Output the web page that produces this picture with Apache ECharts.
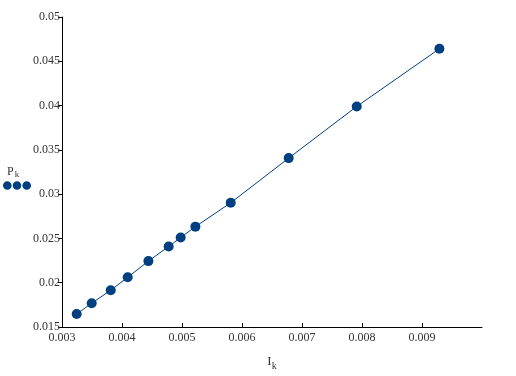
<!DOCTYPE html>
<html>
<head>
<meta charset="utf-8">
<script src="https://cdn.jsdelivr.net/npm/echarts@6/dist/echarts.min.js"></script>
<style>html,body{margin:0;padding:0;background:#fff}#c{width:516px;height:376px}</style>
</head>
<body>
<div id="c"></div>
<script>
var xValues = [0.003245, 0.003495, 0.003812, 0.004095, 0.00444, 0.004778, 0.004978, 0.005223, 0.005812, 0.006778, 0.007912, 0.00929];
var yValues = [0.01646, 0.01769, 0.01915, 0.02061, 0.02244, 0.02409, 0.0251, 0.02633, 0.02902, 0.03407, 0.0399, 0.04641];
var xTicks = [0.003, 0.004, 0.005, 0.006, 0.007, 0.008, 0.009];
var seriesName = 'Pk';
var xName = 'I';
var xSub = 'k';

var color = '#003f80';
var font = '"Liberation Serif", "DejaVu Serif", serif';
var chart = echarts.init(document.getElementById('c'));
var pts = xValues.map(function (x, i) { return [x, yValues[i]]; });
chart.setOption({
  animation: false,
  grid: { left: 62, right: 34, top: 17, bottom: 47 },
  xAxis: {
    type: 'value', min: 0.003, max: 0.01, interval: 0.001,
    name: '{a|' + xName + '}{b|' + xSub + '}', nameLocation: 'middle', nameGap: 26,
    nameTextStyle: { rich: { a: { fontFamily: font, fontSize: 13, color: '#333' }, b: { fontFamily: font, fontSize: 10, color: '#333', verticalAlign: 'bottom', padding: [8, 0, 0, 0] } } },
    axisLine: { lineStyle: { color: '#000', width: 1 } },
    axisTick: { inside: true, length: 4, lineStyle: { color: '#000' }, customValues: xTicks },
    axisLabel: { customValues: xTicks, fontFamily: font, fontSize: 12, color: '#333', margin: 5, formatter: function (v) { return String(+v.toFixed(4)); } },
    splitLine: { show: false }
  },
  yAxis: {
    type: 'value', min: 0.015, max: 0.05, interval: 0.005,
    axisLine: { show: true, lineStyle: { color: '#000', width: 1 } },
    axisTick: { show: true, length: 4, lineStyle: { color: '#000' } },
    axisLabel: { fontFamily: font, fontSize: 12, color: '#333', margin: 2, formatter: function (v) { return String(+v.toFixed(4)); } },
    splitLine: { show: false }
  },
  legend: {
    left: 3, top: 181, padding: 0, itemWidth: 28, itemHeight: 9, itemGap: 0,
    icon: 'path://M4,0A4,4,0,1,1,4,8A4,4,0,1,1,4,0ZM13,0A4,4,0,1,1,13,8A4,4,0,1,1,13,0ZM22,0A4,4,0,1,1,22,8A4,4,0,1,1,22,0Z',
    formatter: function () { return ''; },
    data: [seriesName]
  },
  graphic: [{
    type: 'text', left: 7, top: 166,
    style: { rich: { a: { fontFamily: font, fontSize: 12, fill: '#333' }, b: { fontFamily: font, fontSize: 9, fill: '#333', padding: [6, 0, 0, 1] } }, text: '{a|P}{b|k}' }
  }],
  series: [{
    name: seriesName, type: 'line', data: pts,
    symbol: 'circle', symbolSize: 10,
    lineStyle: { color: color, width: 1 },
    itemStyle: { color: color }
  }]
});
</script>
</body>
</html>
